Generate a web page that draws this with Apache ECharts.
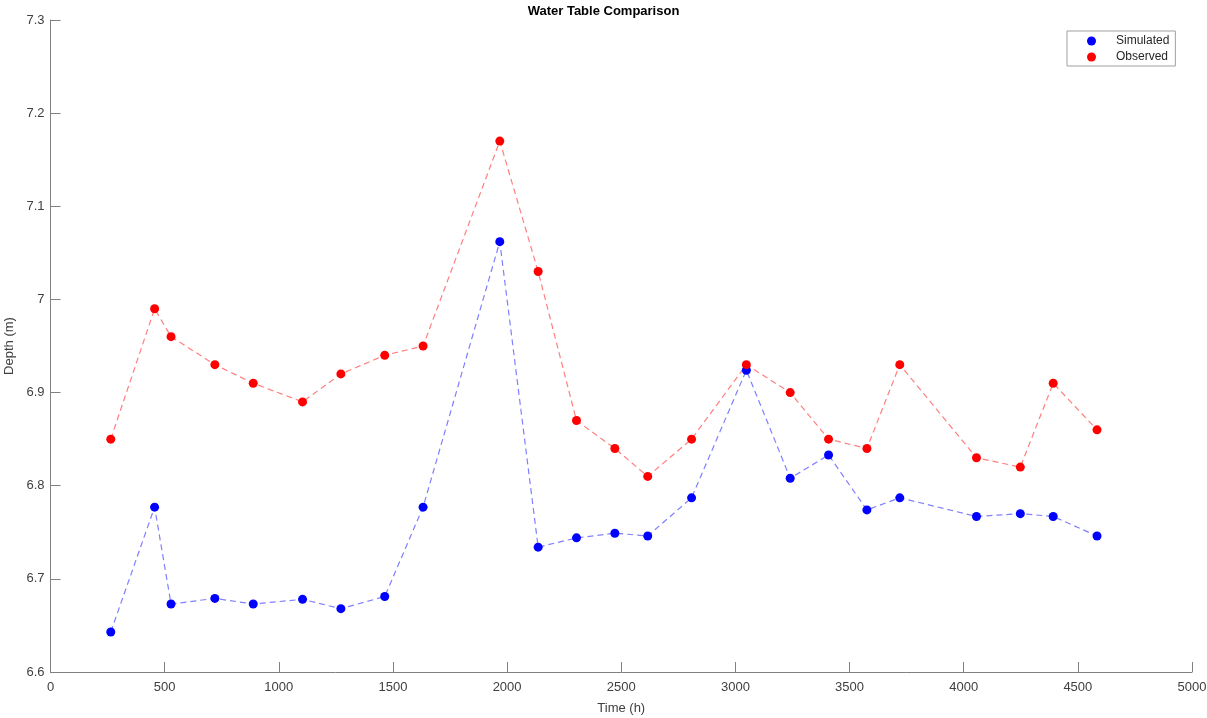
<!DOCTYPE html>
<html>
<head>
<meta charset="utf-8">
<script src="https://cdn.jsdelivr.net/npm/echarts@6/dist/echarts.min.js"></script>
<style>
  html, body { margin: 0; padding: 0; background: #fff; }
  #chart { width: 1207px; height: 718px; }
</style>
</head>
<body>
<div id="chart"></div>
<script>
// time in hours
const timeH = [264, 456, 528, 720, 888, 1104, 1272, 1464, 1632, 1968, 2136, 2304,
  2472, 2616, 2808, 3048, 3240, 3408, 3576, 3720, 4056, 4248, 4392, 4584];
// simulated depth (m)
const simulated = [6.643, 6.777, 6.673, 6.679, 6.673, 6.678, 6.668, 6.681, 6.777, 7.062, 6.734, 6.744,
  6.749, 6.746, 6.787, 6.924, 6.808, 6.833, 6.774, 6.787, 6.767, 6.770, 6.767, 6.746];
// observed depth (m)
const observed = [6.85, 6.99, 6.96, 6.93, 6.91, 6.89, 6.92, 6.94, 6.95, 7.17, 7.03, 6.87,
  6.84, 6.81, 6.85, 6.93, 6.90, 6.85, 6.84, 6.93, 6.83, 6.82, 6.91, 6.86];

const font = "Arial, 'Liberation Sans', Helvetica, sans-serif";
const axisColor = "#808080";
const textColor = "#404040";

function pairs(ys) {
  return timeH.map((t, i) => [t, ys[i]]);
}

const chart = echarts.init(document.getElementById("chart"));
chart.setOption({
  animation: false,
  textStyle: { fontFamily: font },
  title: {
    text: "Water Table Comparison",
    left: "center",
    top: 0,
    textStyle: { fontSize: 13, fontWeight: "bold", color: "#000", fontFamily: font },
  },
  legend: {
    orient: "vertical",
    left: 1067,
    top: 31,
    width: 107,
    padding: [4, 6, 3, 20],
    itemGap: 4,
    itemWidth: 9,
    itemHeight: 9,
    icon: "circle",
    borderColor: "#a0a0a0",
    borderWidth: 1,
    textStyle: { fontSize: 12, color: "#262626", padding: [0, 0, 0, 15], fontFamily: font },
    data: ["Simulated", "Observed"],
  },
  grid: { left: 50.5, right: 15, top: 20, bottom: 46, containLabel: false, outerBoundsMode: "none" },
  xAxis: {
    type: "value",
    min: 0,
    max: 5000,
    interval: 500,
    name: "Time (h)",
    nameLocation: "middle",
    nameGap: 30,
    nameTextStyle: { fontSize: 13, color: textColor },
    axisLine: { lineStyle: { color: axisColor } },
    axisTick: { inside: true, length: 10, lineStyle: { color: axisColor } },
    axisLabel: { fontSize: 13, color: textColor, margin: 9, formatter: (v) => String(v) },
    splitLine: { show: false },
  },
  yAxis: {
    type: "value",
    min: 6.6,
    max: 7.3,
    interval: 0.1,
    name: "Depth (m)",
    nameLocation: "middle",
    nameGap: 32,
    nameTextStyle: { fontSize: 13, color: textColor },
    axisLine: { show: true, lineStyle: { color: axisColor } },
    axisTick: { show: true, inside: true, length: 10, lineStyle: { color: axisColor } },
    axisLabel: {
      fontSize: 13,
      color: textColor,
      margin: 6,
      formatter: (v) => String(Math.round(v * 10) / 10),
    },
    splitLine: { show: false },
  },
  series: [
    {
      name: "Simulated",
      type: "line",
      data: pairs(simulated),
      symbol: "circle",
      symbolSize: 9,
      itemStyle: { color: "#0000ff" },
      lineStyle: { color: "rgba(0,0,255,0.5)", width: 1.2, type: [6, 4] },
    },
    {
      name: "Observed",
      type: "line",
      data: pairs(observed),
      symbol: "circle",
      symbolSize: 9,
      itemStyle: { color: "#ff0000" },
      lineStyle: { color: "rgba(255,0,0,0.5)", width: 1.2, type: [6, 4] },
    },
  ],
});
</script>
</body>
</html>
